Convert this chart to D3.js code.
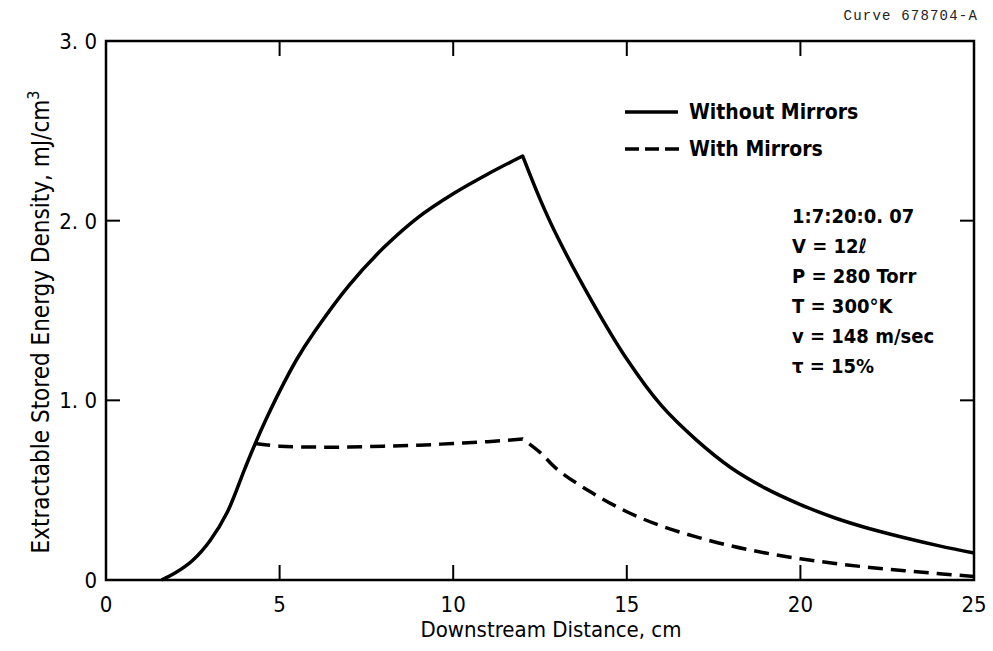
<!DOCTYPE html>
<html><head><meta charset="utf-8">
<script src="https://cdn.jsdelivr.net/npm/d3@7"></script>
<style>
body{margin:0;background:#fff;}
svg{display:block;}
</style></head>
<body>
<svg id="chart" width="993" height="651"></svg>
<script>
// ---- data ----
const xTicks = [0, 5, 10, 15, 20, 25];
const yTicks = [0, 1, 2, 3];
const yTickLabels = ["0", "1. 0", "2. 0", "3. 0"];

const withoutX = [1.6, 2.0, 2.5, 3.0, 3.5, 4.0, 4.3, 4.6, 5.0, 5.5, 6.0, 7.0, 8.0, 9.0, 10.0, 11.0, 12.0,
                  12.5, 13.0, 14.0, 15.0, 16.0, 17.0, 18.0, 19.0, 20.0, 21.0, 22.0, 23.0, 24.0, 25.0];
const withoutY = [0.0, 0.04, 0.11, 0.22, 0.38, 0.62, 0.76, 0.89, 1.05, 1.23, 1.38, 1.64, 1.85, 2.02, 2.15, 2.26, 2.36,
                  2.12, 1.91, 1.55, 1.23, 0.97, 0.78, 0.625, 0.51, 0.42, 0.345, 0.285, 0.235, 0.19, 0.15];
const withX = [4.3, 5.0, 6.0, 7.0, 8.0, 9.0, 10.0, 11.0, 12.0,
               12.5, 13.0, 14.0, 15.0, 16.0, 17.0, 18.0, 19.0, 20.0, 21.0, 22.0, 23.0, 24.0, 25.0];
const withY = [0.76, 0.745, 0.74, 0.74, 0.745, 0.75, 0.76, 0.77, 0.785,
               0.71, 0.615, 0.485, 0.38, 0.30, 0.24, 0.19, 0.15, 0.118, 0.092, 0.07, 0.052, 0.035, 0.02];
const peakX = 12.0;   // sharp corner of both curves

const legendLabels = ["Without Mirrors", "With Mirrors"];
const conditions = ["1:7:20:0. 07", "V = 12\u2113", "P = 280 Torr", "T = 300\u00B0K", "v = 148 m/sec", "\u03C4 = 15%"];

// ---- layout ----
const svg = d3.select("#chart");
const x = d3.scaleLinear().domain([0, 25]).range([106, 974]);
const y = d3.scaleLinear().domain([0, 3]).range([580, 41]);
const tickFont = "'DejaVu Sans Condensed','Liberation Sans Narrow','Liberation Sans',sans-serif";

// frame
svg.append("rect").attr("x", x(0)).attr("y", y(3)).attr("width", x(25) - x(0)).attr("height", y(0) - y(3))
  .attr("fill", "none").attr("stroke", "#000").attr("stroke-width", 2.5);

// inward ticks
const inner = xTicks.filter(d => d > 0 && d < 25);
svg.append("g").selectAll("line").data(inner).join("line")
  .attr("x1", d => x(d)).attr("x2", d => x(d)).attr("y1", y(0)).attr("y2", y(0) - 15)
  .attr("stroke", "#000").attr("stroke-width", 2);
svg.append("g").selectAll("line").data(inner).join("line")
  .attr("x1", d => x(d)).attr("x2", d => x(d)).attr("y1", y(3)).attr("y2", y(3) + 15)
  .attr("stroke", "#000").attr("stroke-width", 2);
const innerY = yTicks.filter(d => d > 0 && d < 3);
svg.append("g").selectAll("line").data(innerY).join("line")
  .attr("x1", x(0)).attr("x2", x(0) + 14).attr("y1", d => y(d)).attr("y2", d => y(d))
  .attr("stroke", "#000").attr("stroke-width", 2);
svg.append("g").selectAll("line").data(innerY).join("line")
  .attr("x1", x(25)).attr("x2", x(25) - 14).attr("y1", d => y(d)).attr("y2", d => y(d))
  .attr("stroke", "#000").attr("stroke-width", 2);

// tick labels
svg.append("g").selectAll("text").data(xTicks).join("text")
  .attr("x", d => x(d)).attr("y", 612).attr("text-anchor", "middle")
  .style("font-family", tickFont).style("font-size", "22px").text(d => d);
svg.append("g").selectAll("text").data(yTicks).join("text")
  .attr("x", 97).attr("y", d => y(d) + 8).attr("text-anchor", "end")
  .style("font-family", tickFont).style("font-size", "22px").text((d, i) => yTickLabels[i]);

// axis titles
svg.append("text").attr("x", 551).attr("y", 637).attr("text-anchor", "middle")
  .style("font-family", tickFont).style("font-size", "22px").text("Downstream Distance, cm");
const yt = svg.append("text").attr("transform", "translate(49,322) rotate(-90)").attr("text-anchor", "middle")
  .style("font-family", tickFont).style("font-size", "24px");
yt.append("tspan").text("Extractable Stored Energy Density,  mJ/cm");
yt.append("tspan").attr("dy", -10).style("font-size", "16px").text("3");

svg.append("text").attr("x", 978).attr("y", 20).attr("text-anchor", "end")
  .style("font-family", "'Liberation Mono','DejaVu Sans Mono',monospace").style("font-size", "14px")
  .style("letter-spacing", "1.2px").attr("fill", "#222")
  .text("Curve 678704-A");

// curves
const line = d3.line().x(d => x(d[0])).y(d => y(d[1])).curve(d3.curveCatmullRom.alpha(0.5));
const solid = withoutX.map((v, i) => [v, withoutY[i]]);
const dashed = withX.map((v, i) => [v, withY[i]]);
const twoPart = pts => line(pts.filter(p => p[0] <= peakX)) +
  line(pts.filter(p => p[0] >= peakX)).replace(/^M/, "L");
svg.append("path").attr("d", twoPart(solid)).attr("fill", "none")
  .attr("stroke", "#000").attr("stroke-width", 3.5).attr("stroke-linejoin", "round");
svg.append("path").attr("d", twoPart(dashed))
  .attr("fill", "none").attr("stroke", "#000").attr("stroke-width", 3.5)
  .attr("stroke-linejoin", "round").attr("stroke-dasharray", "15,8");

// legend
const lg = svg.append("g");
lg.append("line").attr("x1", 625).attr("x2", 678).attr("y1", 112).attr("y2", 112)
  .attr("stroke", "#000").attr("stroke-width", 3.5);
lg.append("line").attr("x1", 625).attr("x2", 680).attr("y1", 149).attr("y2", 149)
  .attr("stroke", "#000").attr("stroke-width", 3.5).attr("stroke-dasharray", "14,6");
lg.selectAll("text").data(legendLabels).join("text")
  .attr("x", 689).attr("y", (d, i) => 119 + i * 37)
  .style("font-family", tickFont).style("font-size", "21px").style("font-weight", "bold").text(d => d);

// conditions block
svg.append("g").selectAll("text").data(conditions).join("text")
  .attr("x", 792).attr("y", (d, i) => 223 + i * 30)
  .style("font-family", tickFont).style("font-size", "20px").style("font-weight", "bold").text(d => d);
</script>
</body></html>
